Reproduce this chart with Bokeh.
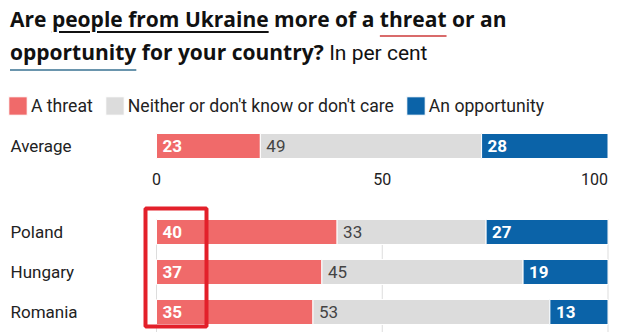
from bokeh.plotting import figure
from bokeh.models import ColumnDataSource, Range1d, Div, BoxAnnotation, Legend, LegendItem
from bokeh.layouts import column
from bokeh.embed import file_html
from bokeh.resources import INLINE
from bokeh.core.properties import value

# ---------------- data ----------------
categories = ["Average", "Poland", "Hungary", "Romania"]
threat = [23, 40, 37, 35]
neither = [49, 33, 45, 53]
opportunity = [28, 27, 19, 13]
series_names = ["A threat", "Neither or don't know or don't care", "An opportunity"]
ticks = [0, 50, 100]
tick_labels = ["0", "50", "100"]

# ---------------- layout / style ----------------
W = 629
TITLE_H = 88
FIG_H = 332 - TITLE_H
PX_PER_UNIT = 4.515
X0_PX = 156
ROW_PX = 40
BAR_H = 25 / ROW_PX
Y_TOP = -1.4375
Y_BOTTOM = Y_TOP + FIG_H / ROW_PX
COUNTRY_OFFSET = 2.15
TICK_ROW = 0.8125
LABEL_X = (10 - X0_PX) / PX_PER_UNIT
x_start = -X0_PX / PX_PER_UNIT
x_end = x_start + W / PX_PER_UNIT

RED = "#f06a6a"
GREY = "#dcdcdc"
BLUE = "#0b63a8"
TXT = "#222222"
FONT = "Roboto"

ypos = [0.0] + [COUNTRY_OFFSET + i for i in range(len(categories) - 1)]
# shares of each row's total (rounded labels may not sum exactly to 100)
totals = [t + n + o for t, n, o in zip(threat, neither, opportunity)]
t_share = [100 * t / s for t, s in zip(threat, totals)]
n_share = [100 * n / s for n, s in zip(neither, totals)]
o_share = [100 * o / s for o, s in zip(opportunity, totals)]
neither_left = list(t_share)
opp_left = [t + n for t, n in zip(t_share, n_share)]

src = ColumnDataSource(dict(
    cat=categories, ypos=ypos,
    threat=t_share, neither=n_share, opportunity=o_share,
    t_x=[0] * len(categories), n_x=neither_left, o_x=opp_left,
    t_txt=[str(v) for v in threat], n_txt=[str(v) for v in neither],
    o_txt=[str(v) for v in opportunity],
))

p = figure(width=W, height=FIG_H, x_range=Range1d(x_start, x_end),
           y_range=Range1d(Y_BOTTOM, Y_TOP), output_backend="svg",
           toolbar_location=None, min_border=0, outline_line_color=None,
           x_axis_type=None, y_axis_type=None)
p.grid.visible = False

# grid lines for the country panel
grid_top = COUNTRY_OFFSET - BAR_H / 2
p.segment(x0=ticks, x1=ticks, y0=[grid_top] * len(ticks), y1=[Y_BOTTOM] * len(ticks),
          line_color="#dddddd", line_width=1)

rs = p.hbar_stack(["threat", "neither", "opportunity"], y="ypos", height=BAR_H,
                  color=[RED, GREY, BLUE], line_color="white", line_width=1, source=src)

# value labels
for xcol, tcol, col, style in [("t_x", "t_txt", "white", "bold"),
                               ("n_x", "n_txt", "#444444", "normal"),
                               ("o_x", "o_txt", "white", "bold")]:
    p.text(x=xcol, y="ypos", text=tcol, source=src, x_offset=6,
           text_align="left", text_baseline="middle", text_font=value(FONT),
           text_font_size="17px", text_font_style=style, text_color=col)

# category labels
p.text(x=LABEL_X, y="ypos", text="cat", source=src, text_align="left",
       text_baseline="middle", text_font=value(FONT), text_font_size="17px",
       text_color=TXT)

# tick labels
tick_src = ColumnDataSource(dict(x=ticks, y=[TICK_ROW] * len(ticks), text=tick_labels,
                                 align=["center", "center", "right"]))
p.text(x="x", y="y", text="text", text_align="align", source=tick_src,
       text_baseline="middle", text_font=value(FONT), text_font_size="16px",
       text_color=TXT)

# highlight box
box = BoxAnnotation(left=(145 - X0_PX) / PX_PER_UNIT, right=(206 - X0_PX) / PX_PER_UNIT,
                    top=Y_TOP + (208 - TITLE_H) / ROW_PX,
                    bottom=Y_TOP + (326 - TITLE_H) / ROW_PX,
                    fill_alpha=0, line_color="#e3202a", line_width=4, line_alpha=1)
p.add_layout(box)

legend = Legend(items=[LegendItem(label=n, renderers=[r]) for n, r in zip(series_names, rs)],
                orientation="horizontal", location="top_left", padding=0, margin=6,
                spacing=10, label_standoff=2, glyph_width=23, glyph_height=23,
                label_height=23, border_line_color=None, background_fill_alpha=0,
                label_text_font=FONT, label_text_font_size="17.6px", label_text_color=TXT)
p.add_layout(legend)

u = "text-decoration:underline;text-decoration-thickness:2px;"
html = (
    '<div style="font-family:\'Open Sans\';font-size:21px;line-height:33px;color:#111;'
    'padding:3px 0 0 10px;margin:0;white-space:nowrap;">'
    '<b>Are <span style="' + u + 'text-decoration-color:#111;text-underline-offset:4px;">people from Ukraine</span>'
    ' more of a <span style="' + u + 'text-decoration-color:#d96b6b;text-underline-offset:8px;">threat</span> or an</b><br>'
    '<b><span style="' + u + 'text-decoration-color:#6a95ad;text-underline-offset:9px;">opportunity</span>'
    ' for your country?</b> <span style="font-family:Roboto;font-weight:normal;font-size:21px;">In per cent</span></div>'
)
title = Div(text=html, width=W, height=TITLE_H, margin=0)

layout = column(title, p, spacing=0)
open("out.html", "w").write(file_html(layout, INLINE))
